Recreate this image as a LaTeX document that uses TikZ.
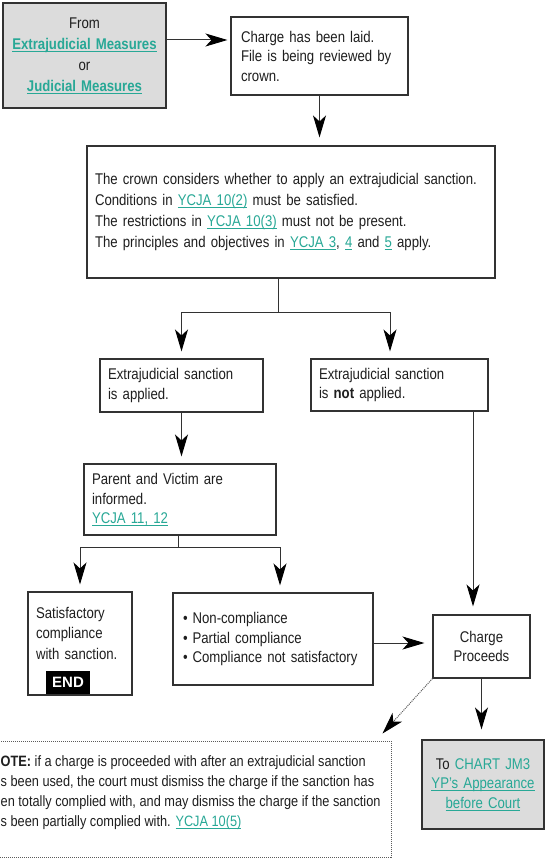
\documentclass[tikz,border=0pt]{standalone}
\usepackage{fontspec}
\setmainfont[FakeStretch=0.85]{Liberation Sans}
\newfontfamily\widebold{Liberation Sans}
\usetikzlibrary{arrows.meta,calc}
\definecolor{link}{RGB}{40,168,150}
\definecolor{boxgray}{RGB}{220,220,220}
\definecolor{edge}{RGB}{50,50,50}
\newcommand{\lnk}[1]{\textcolor{link}{\setbox0\hbox{#1}\rlap{\rule[-1.9pt]{\wd0}{0.75pt}}\box0}}
\begin{document}
\begin{tikzpicture}[x=1pt,y=-1pt,
  every node/.style={font=\fontsize{15.5}{19.5}\selectfont, text=black!88},
  box/.style={draw=edge, line width=1.1pt, rectangle, inner sep=0pt, inner xsep=8pt, align=left, fill=white},
  graybox/.style={box, fill=boxgray, align=center},
  arr/.style={draw=edge, line width=1pt, -{Stealth[length=22pt,width=13pt,inset=6pt,color=black]}},
  ln/.style={draw=edge, line width=1pt},
]
\clip (0,0) rectangle (546,858);
\fill[white] (0,0) rectangle (546,858);

\node[graybox, text width=147pt, minimum height=105pt, font=\fontsize{15.5}{21}\selectfont] (from) at (84.5,55.5)
  {From\\\textbf{\lnk{Extrajudicial Measures}}\\or\\\textbf{\lnk{Judicial Measures}}};
\node[box, text width=157pt, inner xsep=10pt, minimum height=78pt] (charge) at (319.5,56)
  {Charge has been laid.\\File is being reviewed by\\crown.};
\node[box, text width=392pt, minimum height=132pt, font=\fontsize{15.5}{21}\selectfont] (crown) at (291,212)
  {The crown considers whether to apply an extrajudicial sanction.\\
   Conditions in \lnk{YCJA 10(2)} must be satisfied.\\
   The restrictions in \lnk{YCJA 10(3)} must not be present.\\
   The principles and objectives in \lnk{YCJA 3}, \lnk{4} and \lnk{5} apply.};
\node[box, text width=147pt, minimum height=53pt] (applied) at (181.5,385.5)
  {Extrajudicial sanction\\is applied.};
\node[box, text width=161pt, minimum height=52pt] (notapp) at (399.5,385)
  {Extrajudicial sanction\\is \textbf{not} applied.};
\node[box, text width=176pt, minimum height=71pt] (parent) at (180,499.5)
  {Parent and Victim are\\informed.\\\lnk{YCJA 11, 12}};
\node[box, text width=88pt, minimum height=103pt, font=\fontsize{15.5}{20.5}\selectfont] (satis) at (80,643.5)
  {Satisfactory\\compliance\\with sanction.\\\mbox{}};
\node[fill=black, text=white, font=\widebold\bfseries\fontsize{15}{15}\selectfont, minimum width=44pt, minimum height=23pt, inner sep=0pt] (endtag) at (68,682.5) {END};
\node[box, text width=180pt, inner xsep=10pt, minimum height=92pt] (bullets) at (273,639)
  {\textbullet\hspace{5pt}Non-compliance\\\textbullet\hspace{5pt}Partial compliance\\\textbullet\hspace{5pt}Compliance not satisfactory};
\node[box, align=center, text width=81pt, minimum height=63pt] (proceeds) at (481.5,646.5)
  {Charge\\Proceeds};
\node[graybox, text width=106pt, minimum height=89pt] (jm3) at (483,784.5)
  {To \textcolor{link}{CHART JM3}\\\lnk{YP's Appearance}\\\lnk{before Court}};
\node[box, draw=edge!80, dash pattern=on 1pt off 1pt, line width=1pt, minimum width=411pt, minimum height=116pt] (note) at (185.5,799) {};
\node[anchor=west, align=left, inner sep=0pt, font=\fontsize{15}{20}\selectfont] (notetxt) at (0.5,793)
  {\textbf{OTE:} if a charge is proceeded with after an extrajudicial sanction\\
   s been used, the court must dismiss the charge if the sanction has\\
   en totally complied with, and may dismiss the charge if the sanction\\
   s been partially complied with. \lnk{YCJA 10(5)}};

% connectors
\coordinate (a1) at ([yshift=15.5pt]from.east);
\draw[arr, shorten >=3pt] (a1) -- (a1 -| charge.west);
\draw[arr, shorten >=8pt] (charge.south) -- (charge.south |- crown.north);

\coordinate (b0) at ([xshift=-13pt]crown.south);
\coordinate (b1) at ($(b0)+(0,34)$);
\draw[ln] (b0) -- (b1);
\draw[arr, shorten >=7pt] (b1) -| (applied.north);
\draw[arr, shorten >=7pt] (b1) -| ([xshift=-9.5pt]notapp.north);

\draw[arr, shorten >=7pt] (applied.south) -- (applied.south |- parent.north);

\coordinate (p0) at ([xshift=-2pt]parent.south);
\coordinate (b2) at ($(p0)+(0,12)$);
\draw[ln] (p0) -- (b2);
\draw[arr, shorten >=7pt] (b2) -| (satis.north);
\draw[arr, shorten >=7pt] (b2) -| ([xshift=7pt]bullets.north);

\coordinate (c1) at ([xshift=73.5pt]notapp.south);
\draw[arr, shorten >=8pt] (c1) -- (c1 |- proceeds.north);
\coordinate (c2) at ([yshift=-4pt]bullets.east);
\draw[arr, shorten >=8pt] (c2) -- (c2 -| proceeds.west);
\draw[arr, shorten >=10pt] (proceeds.south) -- (proceeds.south |- jm3.north);
\draw[arr, dash pattern=on 1pt off 1pt, draw=edge!80] (proceeds.south west) -- ([xshift=-9pt,yshift=7pt]note.north east);
\end{tikzpicture}
\end{document}
